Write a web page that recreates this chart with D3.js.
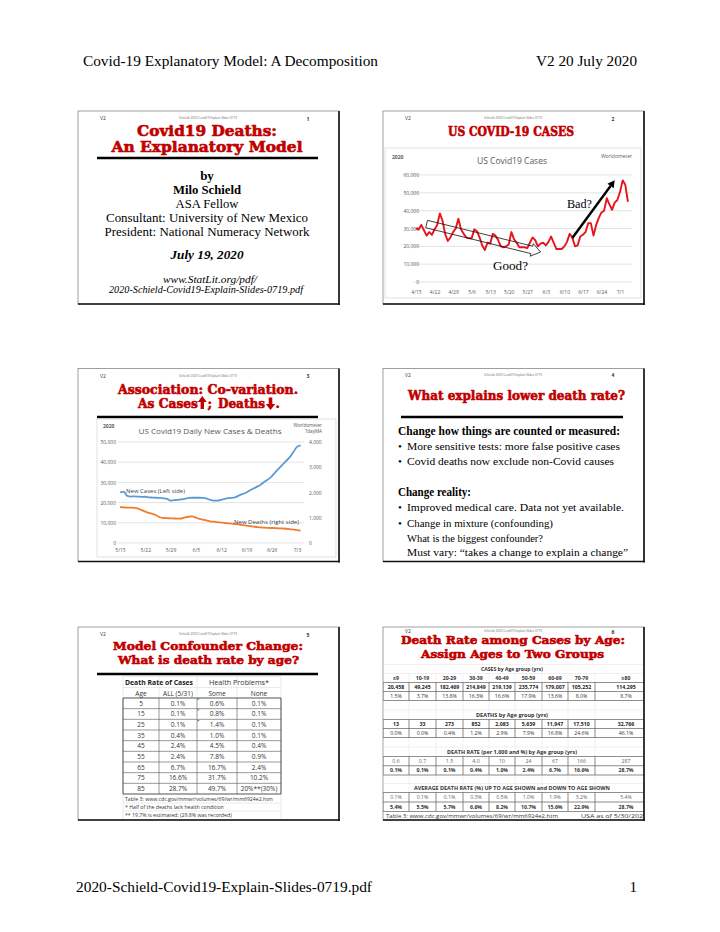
<!DOCTYPE html>
<html><head><meta charset="utf-8">
<script src="https://cdn.jsdelivr.net/npm/d3@7"></script>
<style>body{margin:0;background:#fff}svg{display:block}</style>
</head><body>
<script>
// ---------------- DATA ----------------
const pageHeaderLeft = "Covid-19 Explanatory Model: A Decomposition";
const pageHeaderRight = "V2 20 July 2020";
const pageFooterLeft = "2020-Schield-Covid19-Explain-Slides-0719.pdf";
const pageFooterRight = "1";
const slideTag = "Schield: 2020 Covid19 Explain Slides 0719";

// Slide 2: US daily new cases, 4/15 .. 7/4
const casesStart = "2020-04-15";
const usDailyCases = [30000,29500,32000,29000,26000,28000,26500,29500,32000,38500,
  34500,27000,23000,25000,28000,30000,35500,29500,27000,25000,
  24500,24500,29500,28500,25000,20500,18000,22000,21500,27000,
  26000,23500,20000,19500,20000,21000,28000,24000,22000,19500,
  19500,19500,19000,22000,25000,23500,20000,21500,22000,20500,
  22500,25500,22000,18500,18500,18500,20000,22500,27000,25000,
  20000,20500,25500,26500,28000,33000,33000,26000,32000,36000,
  39000,40000,47000,43500,40500,44500,46000,50500,57000,54500,45000];
const casesXTicks = ["4/15","4/22","4/29","5/6","5/13","5/20","5/27","6/3","6/10","6/17","6/24","7/1"];
const casesYTicks = [0,10000,20000,30000,40000,50000,60000];
const goodArrow = {from:["4/19",32500], to:["6/1",16800]};
const badArrow = {from:["6/13",24700], to:["6/29",57000]};

// Slide 3: 7-day MA new cases (left) and new deaths (right), 5/15 .. 7/4
const maStart = "2020-05-15";
const newCases7d = [25000,25400,23300,23000,23100,23000,22800,22900,22600,22500,
  22400,22300,22100,21900,21000,21200,21400,21600,21900,22300,
  22400,22400,22400,22300,22000,21300,21000,21000,21400,21900,
  22200,22300,22700,23600,24300,25000,26100,27000,27900,29000,
  30300,31500,33000,35000,37000,38800,40600,42500,45000,47600,48300];
const newDeaths7d = [1420,1410,1400,1400,1390,1360,1300,1240,1190,1150,
  1100,1020,990,985,975,970,965,970,1010,1040,1055,1000,960,925,890,
  860,845,830,810,790,780,770,750,730,705,690,670,650,630,615,
  605,600,595,590,580,575,565,550,530,510,490];
const maXTicks = ["5/15","5/22","5/29","6/5","6/12","6/19","6/26","7/3"];
const maLeftTicks = [0,10000,20000,30000,40000,50000];
const maRightTicks = [0,1000,2000,3000,4000];

// Slide 4
const s4Head1 = "Change how things are counted or measured:";
const s4List1 = ["More sensitive tests: more false positive cases","Covid deaths now exclude non-Covid causes"];
const s4Head2 = "Change reality:";
const s4List2 = ["Improved medical care.  Data not yet available.","Change in mixture (confounding)"];
const s4Extra = ["What is the biggest confounder?","Must vary: \u201Ctakes a change to explain a change\u201D"];

// Slide 5: death rate of cases by age
const s5Ages = ["5","15","25","35","45","55","65","75","85"];
const s5All = ["0.1%","0.1%","0.1%","0.4%","2.4%","2.4%","6.7%","16.6%","28.7%"];
const s5Some = ["0.6%","0.8%","1.4%","1.0%","4.5%","7.8%","16.7%","31.7%","49.7%"];
const s5None = ["0.1%","0.1%","0.1%","0.1%","0.4%","0.9%","2.4%","10.2%","20%**(30%)"];
const s5Notes = ["Table 3: www.cdc.gov/mmwr/volumes/69/wr/mm6924e2.htm","* Half of the deaths lack health condition","** 19.7% is estimated; (29.8% was recorded)"];

// Slide 6: cases & deaths by age group
const s6Groups = ["\u22649","10-19","20-29","30-39","40-49","50-59","60-69","70-79","\u226580"];
const s6Cases = ["20,458","49,245","182,469","214,849","219,139","235,774","179,007","105,252","114,295"];
const s6CasesPct = ["1.5%","3.7%","13.8%","16.3%","16.6%","17.9%","13.6%","8.0%","8.7%"];
const s6Deaths = ["13","33","273","852","2,083","5,639","11,947","17,510","32,766"];
const s6DeathsPct = ["0.0%","0.0%","0.4%","1.2%","2.9%","7.9%","16.8%","24.6%","46.1%"];
const s6Rate1000 = ["0.6","0.7","1.5","4.0","10","24","67","166","287"];
const s6RatePct = ["0.1%","0.1%","0.1%","0.4%","1.0%","2.4%","6.7%","16.6%","28.7%"];
const s6AvgUp = ["0.1%","0.1%","0.1%","0.3%","0.5%","1.0%","1.9%","3.2%","5.4%"];
const s6AvgDown = ["5.4%","5.5%","5.7%","6.6%","8.2%","10.7%","15.6%","22.9%","28.7%"];

// ---------------- DRAWING ----------------
const svg = d3.select("body").append("svg").attr("width",720).attr("height",932)
  .style("background","#fff");
const SERIF = "'Liberation Serif','Times New Roman',serif";
const SLAB = "'DejaVu Serif',serif";
const SANS = "'Open Sans','Liberation Sans',sans-serif";
const RED = "#c00000";

function T(g,x,y,s,o={}){
  const t = g.append("text").attr("x",x).attr("y",y).text(s)
    .attr("font-family",o.ff||SERIF).attr("font-size",o.fs||12)
    .attr("fill",o.fill||"#000").attr("text-anchor",o.anchor||"start");
  if(o.fw) t.attr("font-weight",o.fw);
  if(o.fst) t.attr("font-style",o.fst);
  if(o.w) t.attr("textLength",o.w).attr("lengthAdjust","spacingAndGlyphs");
  if(o.stroke) t.attr("stroke",o.stroke).attr("stroke-width",o.sw||0.5).attr("stroke-linejoin","round");
  return t;
}
function title(g,cx,y,s,w,fs){ return T(g,cx,y,s,{ff:SLAB,fw:"bold",fs:fs||13,fill:RED,anchor:"middle",w:w,stroke:RED,sw:0.6}); }
function rule(g,x1,x2,y,sw){ g.append("line").attr("x1",x1).attr("x2",x2).attr("y1",y).attr("y2",y).attr("stroke","#000").attr("stroke-width",sw||2.5); }

// page header/footer
T(svg,83,66,pageHeaderLeft,{fs:15,w:295});
T(svg,637,66,pageHeaderRight,{fs:15,anchor:"end",w:101});
T(svg,76,892,pageFooterLeft,{fs:15,w:296});
T(svg,637,892,pageFooterRight,{fs:15,anchor:"end"});

// slide frames
const SW=261, SH=193;
const slidePos=[[78,111],[383,111],[78,368.5],[383,368.5],[78,627],[383,627]];
const numY=[9,9,9,8,9,6];
svg.append("defs").append("clipPath").attr("id","clip6").append("rect")
  .attr("x",383).attr("y",627).attr("width",SW).attr("height",SH);
slidePos.forEach((p,i)=>{
  const g=svg.append("g");
  g.append("rect").attr("x",p[0]).attr("y",p[1]).attr("width",SW).attr("height",SH)
    .attr("fill","#fff").attr("stroke","#888").attr("stroke-width",0.8);
  T(g,p[0]+22,p[1]+numY[i],"V2",{ff:SANS,fs:5,fill:"#333"});
  T(g,p[0]+130,p[1]+numY[i]-1,slideTag,{ff:SANS,fs:3,fill:"#666",anchor:"middle"});
  T(g,p[0]+230,p[1]+numY[i]+0.5,String(i+1),{ff:SANS,fs:5,fill:"#333",anchor:"middle",fw:"bold"});
});
function frameEdges(){
  slidePos.forEach(p=>{
    svg.append("line").attr("x1",p[0]+SW).attr("x2",p[0]+SW).attr("y1",p[1]).attr("y2",p[1]+SH+1)
      .attr("stroke","#111").attr("stroke-width",1.6);
    svg.append("line").attr("x1",p[0]).attr("x2",p[0]+SW+0.8).attr("y1",p[1]+SH).attr("y2",p[1]+SH)
      .attr("stroke","#111").attr("stroke-width",1.6);
  });
}

// ---------- Slide 1 ----------
{
  const g=svg.append("g");
  title(g,207,136,"Covid19 Deaths:",140,14.5);
  title(g,207,151.5,"An Explanatory Model",191,14.5);
  rule(g,97,318,158,2.5);
  T(g,207,180,"by",{fs:13,fw:"bold",anchor:"middle"});
  T(g,207,194,"Milo Schield",{fs:13,fw:"bold",anchor:"middle",w:68});
  T(g,207,208,"ASA Fellow",{fs:13,anchor:"middle",w:63});
  T(g,207,221.5,"Consultant: University of New Mexico",{fs:13,anchor:"middle",w:202});
  T(g,207,235.5,"President: National Numeracy Network",{fs:13,anchor:"middle",w:205});
  T(g,207,259,"July 19, 2020",{fs:13,fw:"bold",fst:"italic",anchor:"middle",w:73});
  T(g,210,282.5,"www.StatLit.org/pdf/",{fs:10,fst:"italic",anchor:"middle",w:94});
  T(g,206,292.5,"2020-Schield-Covid19-Explain-Slides-0719.pdf",{fs:10,fst:"italic",anchor:"middle",w:194});
}

// ---------- Slide 2 ----------
{
  const g=svg.append("g");
  title(g,511,135.7,"US COVID-19 CASES",126,12.5);
  g.append("rect").attr("x",385).attr("y",148).attr("width",256).attr("height",150)
    .attr("fill","#fff").attr("stroke","#d9d9d9").attr("stroke-width",0.8);
  const parse=d3.timeParse("%Y-%m-%d");
  const md=s=>{const [m,d]=s.split("/").map(Number); return new Date(2020,m-1,d);};
  const t0=parse(casesStart);
  const dates=usDailyCases.map((v,i)=>d3.timeDay.offset(t0,i));
  const x=d3.scaleTime().domain([md(casesXTicks[0]),md(casesXTicks[casesXTicks.length-1])]).range([416,620]);
  const y=d3.scaleLinear().domain([0,60000]).range([282,175]);
  g.append("g").selectAll("line").data(casesYTicks).join("line")
    .attr("x1",413).attr("x2",632).attr("y1",d=>y(d)).attr("y2",d=>y(d))
    .attr("stroke","#d9d9d9").attr("stroke-width",0.7);
  const ya=g.append("g").attr("transform","translate(419,0)")
    .call(d3.axisLeft(y).tickValues(casesYTicks).tickSize(0).tickPadding(0).tickFormat(d3.format(",")));
  ya.select(".domain").remove();
  ya.selectAll("text").attr("font-family",SANS).attr("font-size",5).attr("fill","#595959");
  const xa=g.append("g").attr("transform","translate(0,282)")
    .call(d3.axisBottom(x).tickValues(casesXTicks.map(md)).tickSize(0).tickPadding(8).tickFormat(d3.timeFormat("%-m/%-d")));
  xa.select(".domain").remove();
  xa.selectAll("text").attr("font-family",SANS).attr("font-size",5).attr("fill","#595959");
  T(g,392,159,"2020",{ff:SANS,fs:5,fill:"#595959",fw:"bold"});
  T(g,512,164,"US Covid19 Cases",{ff:SANS,fs:8.5,fill:"#595959",anchor:"middle",w:70});
  T(g,632,157.5,"Worldometer",{ff:SANS,fs:5,fill:"#595959",anchor:"end"});
  g.append("path").datum(usDailyCases)
    .attr("d",d3.line().x((d,i)=>x(dates[i])).y(d=>y(d)))
    .attr("fill","none").attr("stroke","#e8141b").attr("stroke-width",1.9).attr("stroke-linejoin","round");
  {
    const p0=[x(md(goodArrow.from[0])),y(goodArrow.from[1])], p1=[x(md(goodArrow.to[0])),y(goodArrow.to[1])];
    const dx=p1[0]-p0[0], dy=p1[1]-p0[1], L=Math.hypot(dx,dy), u=[dx/L,dy/L], n=[-u[1],u[0]];
    const hw=3.8, hh=6.5, hl=9;
    const b=[p1[0]-u[0]*hl,p1[1]-u[1]*hl];
    const pt=(c,k)=>[c[0]+n[0]*k,c[1]+n[1]*k];
    const pts=[pt(p0,hw),pt(b,hw),pt(b,hh),p1,pt(b,-hh),pt(b,-hw),pt(p0,-hw)];
    g.append("path").attr("d","M"+pts.map(p=>p.join(",")).join("L")+"Z")
      .attr("fill","none").attr("stroke","#111").attr("stroke-width",0.8);
  }
  {
    const p0=[x(md(badArrow.from[0])),y(badArrow.from[1])], p1=[x(md(badArrow.to[0])),y(badArrow.to[1])];
    const dx=p1[0]-p0[0], dy=p1[1]-p0[1], L=Math.hypot(dx,dy), u=[dx/L,dy/L], n=[-u[1],u[0]];
    const hl=7, hh=3.8;
    const b=[p1[0]-u[0]*hl,p1[1]-u[1]*hl];
    g.append("line").attr("x1",p0[0]).attr("y1",p0[1]).attr("x2",b[0]).attr("y2",b[1])
      .attr("stroke","#000").attr("stroke-width",2.4);
    g.append("path").attr("d",`M${p1[0]},${p1[1]}L${b[0]+n[0]*hh},${b[1]+n[1]*hh}L${b[0]-n[0]*hh},${b[1]-n[1]*hh}Z`).attr("fill","#000");
  }
  T(g,510.5,270,"Good?",{fs:12.5,anchor:"middle",w:35});
  T(g,579.5,208,"Bad?",{fs:12.5,anchor:"middle",w:25});
}

// ---------- Slide 3 ----------
{
  const g=svg.append("g");
  title(g,208,394.3,"Association: Co-variation.",180,12.5);
  const o={ff:SLAB,fw:"bold",fs:12.5,fill:RED,stroke:RED,sw:0.6};
  T(g,138,407.5,"As Cases",Object.assign({w:60},o));
  T(g,207.5,407.5,";",o);
  T(g,218,407.5,"Deaths",Object.assign({w:47},o));
  T(g,275.5,407.5,".",o);
  g.append("path").attr("d","M202.3,396 L206.8,402 L204,402 L204,409 L200.6,409 L200.6,402 L197.8,402 Z").attr("fill",RED);
  g.append("path").attr("d","M270.5,410 L275.2,404 L272.3,404 L272.3,397.5 L268.7,397.5 L268.7,404 L265.8,404 Z").attr("fill",RED);
  rule(g,97,318,417,2.5);
  g.append("rect").attr("x",97).attr("y",419).attr("width",239).attr("height",138)
    .attr("fill","#fff").attr("stroke","#d9d9d9").attr("stroke-width",0.8);
  const parse=d3.timeParse("%Y-%m-%d");
  const md=s=>{const [m,d]=s.split("/").map(Number); return new Date(2020,m-1,d);};
  const t0=parse(maStart);
  const dates=newCases7d.map((v,i)=>d3.timeDay.offset(t0,i));
  const x=d3.scaleTime().domain([md(maXTicks[0]),md(maXTicks[maXTicks.length-1])]).range([120,297]);
  const yL=d3.scaleLinear().domain([0,50000]).range([543,442]);
  const yR=d3.scaleLinear().domain([0,4000]).range([543,442]);
  g.append("g").selectAll("line").data(maLeftTicks).join("line")
    .attr("x1",118).attr("x2",304).attr("y1",d=>yL(d)).attr("y2",d=>yL(d))
    .attr("stroke","#d9d9d9").attr("stroke-width",0.7);
  const la=g.append("g").attr("transform","translate(116,0)")
    .call(d3.axisLeft(yL).tickValues(maLeftTicks).tickSize(0).tickPadding(0).tickFormat(d3.format(",")));
  const ra=g.append("g").attr("transform","translate(309,0)")
    .call(d3.axisRight(yR).tickValues(maRightTicks).tickSize(0).tickPadding(0).tickFormat(d3.format(",")));
  const xa=g.append("g").attr("transform","translate(0,543)")
    .call(d3.axisBottom(x).tickValues(maXTicks.map(md)).tickSize(0).tickPadding(5.5).tickFormat(d3.timeFormat("%-m/%-d")));
  [la,ra,xa].forEach(a=>{a.select(".domain").remove();
    a.selectAll("text").attr("font-family",SANS).attr("font-size",5).attr("fill","#595959");});
  T(g,103,428,"2020",{ff:SANS,fs:5,fill:"#595959",fw:"bold"});
  T(g,210,433.5,"US Covid19 Daily New Cases & Deaths",{ff:SANS,fs:7.5,fill:"#595959",anchor:"middle",w:143});
  T(g,322,426.5,"Worldometer",{ff:SANS,fs:4.6,fill:"#595959",anchor:"end"});
  T(g,322,432.5,"7dayMA",{ff:SANS,fs:4.6,fill:"#595959",anchor:"end"});
  g.append("path").datum(newCases7d).attr("d",d3.line().x((d,i)=>x(dates[i])).y(d=>yL(d)).curve(d3.curveMonotoneX))
    .attr("fill","none").attr("stroke","#5b9bd5").attr("stroke-width",1.8);
  g.append("path").datum(newDeaths7d).attr("d",d3.line().x((d,i)=>x(dates[i])).y(d=>yR(d)).curve(d3.curveMonotoneX))
    .attr("fill","none").attr("stroke","#ed7d31").attr("stroke-width",1.8);
  T(g,126,493,"New Cases (Left side)",{ff:SANS,fs:5.8,fill:"#404040",w:59});
  T(g,234,524,"New Deaths (right side)",{ff:SANS,fs:5.8,fill:"#404040",w:65});
}

// ---------- Slide 4 ----------
{
  const g=svg.append("g");
  title(g,516.5,399.5,"What explains lower death rate?",217,13);
  rule(g,401,623,417,2.5);
  T(g,398,435,s4Head1,{fs:11.5,fw:"bold",w:222});
  const l1y=[449.5,465], l1w=[213,207];
  s4List1.forEach((s,i)=>{T(g,398,l1y[i],"\u2022",{fs:11}); T(g,407,l1y[i],s,{fs:11,w:l1w[i]});});
  T(g,398,496,s4Head2,{fs:11.5,fw:"bold",w:73});
  const l2y=[511,526.5], l2w=[217,146];
  s4List2.forEach((s,i)=>{T(g,398,l2y[i],"\u2022",{fs:11}); T(g,407,l2y[i],s,{fs:11,w:l2w[i]});});
  T(g,407,541.5,s4Extra[0],{fs:11,w:136});
  T(g,407,555.5,s4Extra[1],{fs:11,w:221});
}

// ---------- Slide 5 ----------
{
  const g=svg.append("g");
  title(g,208,650,"Model Confounder Change:",190,11.8);
  title(g,208.5,664,"What is death rate by age?",181,11.8);
  rule(g,97,318,674,2.5);
  const ce=[123,159,197,237,281];
  const top=698, bot=794, rh=(bot-top)/s5Ages.length;
  const lg="#dcdcdc";
  [676.5,687.5].forEach(yy=>g.append("line").attr("x1",123).attr("x2",281).attr("y1",yy).attr("y2",yy).attr("stroke",lg).attr("stroke-width",0.6));
  [803,811].forEach(yy=>g.append("line").attr("x1",123).attr("x2",281).attr("y1",yy).attr("y2",yy).attr("stroke",lg).attr("stroke-width",0.6));
  ce.forEach(xx=>g.append("line").attr("x1",xx).attr("x2",xx).attr("y1",676.5).attr("y2",top).attr("stroke",lg).attr("stroke-width",0.6));
  [123,281].forEach(xx=>g.append("line").attr("x1",xx).attr("x2",xx).attr("y1",bot).attr("y2",820).attr("stroke",lg).attr("stroke-width",0.6));
  T(g,125,685,"Death Rate of Cases",{ff:SANS,fs:6.5,fw:"bold",fill:"#222",w:68});
  T(g,239,685,"Health Problems*",{ff:SANS,fs:6.5,fill:"#333",anchor:"middle",w:60});
  const hdr=["Age","ALL (5/31)","Some","None"];
  hdr.forEach((h,i)=>T(g,(ce[i]+ce[i+1])/2,695.5,h,{ff:SANS,fs:6.5,fill:"#333",anchor:"middle"}));
  d3.range(s5Ages.length+1).forEach(k=>g.append("line").attr("x1",123).attr("x2",281)
    .attr("y1",top+k*rh).attr("y2",top+k*rh).attr("stroke","#555").attr("stroke-width",(k===0||k===s5Ages.length)?1.1:0.6));
  ce.forEach((xx,k)=>g.append("line").attr("x1",xx).attr("x2",xx).attr("y1",top).attr("y2",bot)
    .attr("stroke","#555").attr("stroke-width",(k===0||k===ce.length-1)?1.1:0.6));
  const cols=[s5Ages,s5All,s5Some,s5None];
  cols.forEach((col,c)=>col.forEach((v,r)=>T(g,(ce[c]+ce[c+1])/2,top+rh*(r+0.5)+2.3,v,{ff:SANS,fs:6.5,fill:"#333",anchor:"middle"})));
  [0,1,2].forEach(r=>g.append("path").attr("d",`M${ce[2]+0.6},${top+r*rh+0.6}l2,0l-2,2z`).attr("fill","#2e8b2e"));
  const ny=[800.5,808.5,817];
  s5Notes.forEach((s,i)=>T(g,125,ny[i],s,{ff:SANS,fs:5.2,fill:"#333"}));
}

// ---------- Slide 6 ----------
{
  const g=svg.append("g").attr("clip-path","url(#clip6)");
  title(g,513,644.3,"Death Rate among Cases by Age:",224,11.6);
  title(g,512.5,658,"Assign Ages to Two Groups",183,11.6);
  const ex=[383,409,436,463,489,515,542,568,595,657];
  const cx=i=>(ex[i]+ex[i+1])/2;
  const rb=[664.5,673.5,682.5,691.5,700.5,710,719.5,728.5,737.5,747,756.5,765.5,775,783.5,792.5,802,811.5,820];
  const lg="#e0e0e0";
  rb.forEach(yy=>g.append("line").attr("x1",383).attr("x2",657).attr("y1",yy).attr("y2",yy).attr("stroke",lg).attr("stroke-width",0.5));
  ex.forEach(xx=>g.append("line").attr("x1",xx).attr("x2",xx).attr("y1",673.5).attr("y2",811.5).attr("stroke",lg).attr("stroke-width",0.5));
  const blocks=[[682.5,700.5],[719.5,737.5],[756.5,775],[792.5,811.5]];
  blocks.forEach(([a,b])=>{
    const m=(a+b)/2;
    [a,m,b].forEach(yy=>g.append("line").attr("x1",383).attr("x2",657).attr("y1",yy).attr("y2",yy).attr("stroke","#666").attr("stroke-width",0.7));
    ex.forEach(xx=>g.append("line").attr("x1",xx).attr("x2",xx).attr("y1",a).attr("y2",b).attr("stroke","#666").attr("stroke-width",0.7));
  });
  const sect=[["CASES by Age group (yrs)",669,62],["DEATHS by Age group (yrs)",715,72],
    ["DEATH RATE (per 1,000 and %) by Age group (yrs)",752,130],
    ["AVERAGE DEATH RATE (%) UP TO AGE SHOWN and DOWN TO AGE SHOWN",788,196]];
  sect.forEach(([s,yc,w])=>T(g,512,yc+2,s,{ff:SANS,fs:5.3,fw:"bold",fill:"#333",anchor:"middle",w:w}));
  const rowsDef=[[s6Groups,678,"bold","#333"],[s6Cases,687,"bold","#222"],[s6CasesPct,696,"normal","#333"],
    [s6Deaths,724,"bold","#222"],[s6DeathsPct,733,"normal","#333"],
    [s6Rate1000,761,"normal","#666"],[s6RatePct,770,"bold","#333"],
    [s6AvgUp,797,"normal","#666"],[s6AvgDown,807,"bold","#333"]];
  rowsDef.forEach(([arr,yc,fw,fill])=>arr.forEach((v,i)=>T(g,cx(i),yc+1.9,v,{ff:SANS,fs:5.2,fw:fw,fill:fill,anchor:"middle"})));
  T(g,386,818,"Table 3:  www.cdc.gov/mmwr/volumes/69/wr/mm6924e2.htm",{ff:SANS,fs:5.8,fill:"#333",w:172});
  T(g,581,818,"USA as of 5/30/2020",{ff:SANS,fs:5.8,fill:"#333",w:66});
}
frameEdges();
</script>
</body></html>
